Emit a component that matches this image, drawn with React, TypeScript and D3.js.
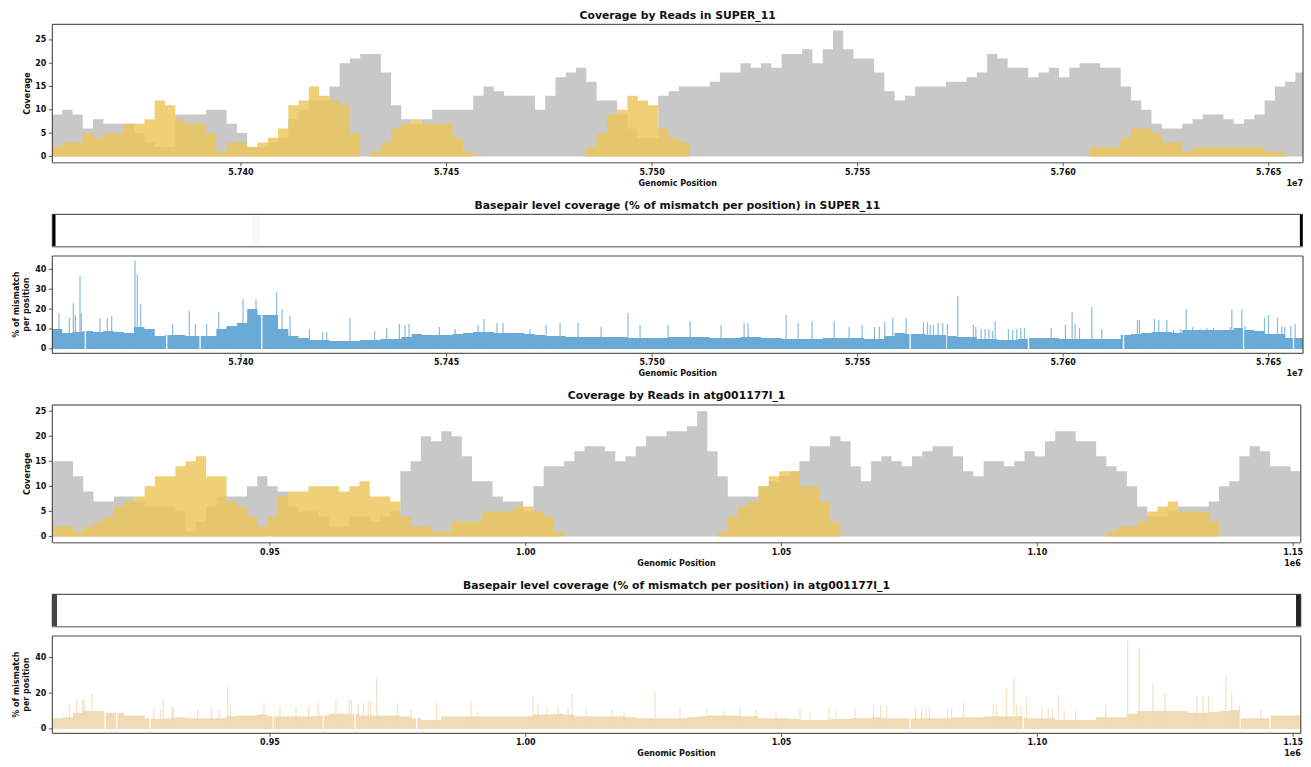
import React from 'react';
import * as d3 from 'd3';

// ---------------- DATA ----------------
// SUPER_11 coverage, bins of 2500 bp starting at 57,354,000
const superStart = 57354000;
const superBin = 2500;
const superGrey = [
  9, 10, 9, 6, 8, 7, 7, 7, 5, 3,
  2, 2, 9, 9, 9, 10, 10, 7, 5, 2,
  2, 3, 4, 8, 10, 12, 12, 15, 20, 21,
  22, 22, 18, 11, 8, 7, 8, 10,
  10, 10, 10, 13, 15, 14, 13, 13, 13, 10,
  13, 17, 18, 19, 16, 12, 12, 9, 6, 4,
  4, 13, 14, 15, 15, 15, 16, 18, 18, 20,
  19, 20, 19, 22, 22, 23, 20, 23, 27, 23,
  21, 21, 18, 14, 12, 13, 15, 15, 15, 16,
  16, 17, 18, 22, 21, 19, 19, 17, 18, 19,
  17, 19, 20, 20, 19, 19, 15, 12, 10, 7,
  6, 6, 7, 8, 9, 9, 8, 7, 8, 9,
  12, 15, 16, 18,
];
const superYellow = [
  2, 3, 3, 5, 4, 5, 5, 7, 7, 8,
  12, 11, 8, 7, 7, 5, 1, 3, 3, 2,
  3, 4, 6, 11, 12, 15, 13, 12, 11, 5,
  0, 1, 3, 6, 7, 8, 7, 7,
  7, 4, 1, 0, 0, 0, 0, 0, 0, 0,
  0, 0, 0, 0, 2, 5, 9, 10, 13, 12,
  11, 6, 4, 3, 0, 0, 0, 0, 0, 0,
  0, 0, 0, 0, 0, 0, 0, 0, 0, 0,
  0, 0, 0, 0, 0, 0, 0, 0, 0, 0,
  0, 0, 0, 0, 0, 0, 0, 0, 0, 0,
  0, 0, 0, 2, 2, 2, 4, 6, 6, 5,
  3, 3, 1, 2, 2, 2, 2, 2, 2, 2,
  1, 1,
];

// SUPER_11 mismatch %, baseline per 2500 bp bin
const superMis = [
  10, 8, 8.5, 9, 8.5, 9, 8.5, 8, 11, 10,
  6.5, 7, 7, 6.5, 6.5, 6.5, 10, 11.5, 13, 20,
  17, 17, 10, 6.5, 5.5, 4.5, 4.5, 4, 4, 4,
  4.5, 4.5, 5, 5, 6, 7.5, 7, 7,
  7, 7.5, 8, 8.5, 8.5, 8, 8, 8, 7.5, 7,
  6.5, 6.5, 6, 6, 6, 6, 6, 6, 5.5, 5.5,
  5.5, 5.5, 6, 6, 6, 6, 5.5, 5.5, 5.5, 6,
  6, 5.5, 5.5, 5, 5, 5, 5, 5.5, 5.5, 5.5,
  5.5, 5, 5, 6.5, 8, 7.5, 7.5, 7, 7, 6.5,
  6, 6, 5, 5, 4.5, 4.5, 5, 5.5, 5.5, 5.5,
  5, 5, 5, 5, 5, 5, 7, 7.5, 8, 8.5,
  8.5, 8, 9.5, 9.5, 9.5, 9.5, 9.5, 10.5, 9.5, 9,
  7.5, 7.5, 5.5, 5.5,
];
const superSpikePos = [
  57355720, 57358234, 57359207, 57359694, 57360829, 57361153, 57365695, 57367479, 57368534,
  57374211, 57374778, 57375589, 57383375, 57387430, 57388890, 57391647, 57394567, 57396513,
  57400487, 57403650, 57408678, 57409976, 57411922, 57416626, 57419870, 57420843, 57426520,
  57432521, 57435441, 57438523, 57439902, 57440875, 57448255,
  57452066, 57457662, 57459122, 57462285, 57463745, 57470314, 57474207, 57477613, 57481992,
  57487588, 57494157, 57497077, 57503889, 57509242, 57516784, 57522380, 57523353, 57532599,
  57535518, 57538924, 57544277, 57547926, 57551089,
  57554090, 57555307, 57556604, 57558551, 57561795, 57566012, 57566985, 57567634, 57568445,
  57569580, 57570716, 57571851, 57574365, 57578177, 57578745, 57580042, 57581016, 57581908,
  57582800, 57583449, 57586693, 57587747, 57588720, 57589693, 57590585, 57597073, 57600561,
  57602183, 57602913, 57603967, 57606968, 57609400, 57618078, 57618565, 57622214, 57623269,
  57625215, 57626837, 57628621, 57629919, 57631541, 57633325, 57634947, 57636569, 57640624,
  57641030, 57643463, 57644274, 57648977, 57649950, 57652140, 57653194, 57653924, 57655384,
  57656438,
];
const superSpikeVal = [
  18, 15.5, 23, 17, 36.5, 18, 15.5, 15.5, 16.5,
  44.5, 37.5, 22.5, 12.5, 19, 12.5, 12.5, 18.5, 11,
  25, 25, 28.5, 20, 16.5, 10, 8.5, 8.5, 15.5,
  9, 10.5, 12.5, 12, 12.5, 11,
  10, 12, 15, 13, 13, 10, 12, 13, 13,
  11, 18, 12, 12, 14, 12, 13, 13, 17,
  13, 14, 14, 11, 12,
  11, 11, 13.5, 15.5, 15.5, 13.5, 13.5, 12, 12,
  13, 13, 12.5, 26.5, 12, 11, 10, 10, 10,
  9, 14, 10, 9.5, 10, 10.5, 10.5, 10.5, 12,
  18.5, 12.5, 10.5, 21, 10, 14.5, 14.5, 15, 14.5,
  14.5, 9.5, 10, 20, 11, 10, 10.5, 10.5, 11,
  20, 20, 11.5, 15.5, 17, 15.5, 11.5, 11, 11.5,
  12.5,
];
const superGapPos = [
  57362127, 57381915, 57390025, 57405029, 57562768, 57571689, 57591558, 57614672, 57643868, 57656032,
];

// SUPER_11 strip cells: [start, end, darkness]
const superStripStart = [57354000, 57402700, 57657700];
const superStripEnd = [57354870, 57404650, 57658400];
const superStripVal = [1, 0.025, 1];

// atg001177l_1 coverage, bins of 2000 bp starting at 907,500
const atgStart = 907500;
const atgBin = 2000;
const atgGrey = [
  15, 15, 12, 9, 7, 7, 8, 8, 7, 6,
  6, 6, 5, 1, 3, 6, 8, 8, 8, 10,
  12, 10, 9, 6, 5, 5, 4, 2, 2, 4,
  4, 3, 4, 5, 13, 15, 20, 19,
  21, 20, 16, 11, 11, 8, 7, 7, 5, 10,
  14, 14, 15, 17, 18, 18, 17, 15, 16, 18,
  20, 20, 21, 21, 22, 25, 17, 12, 8, 8,
  8, 10, 11, 12, 13, 15, 18, 18, 20, 19,
  14, 11, 15, 16, 15, 14, 16, 17, 18, 18,
  16, 13, 12, 15, 15, 14, 15, 17, 16, 19,
  21, 21, 19, 19, 16, 14, 13, 10, 6, 4,
  4, 5, 6, 6, 6, 7, 10, 11, 16, 18,
  17, 14, 14, 13,
];
const atgYellow = [
  2, 2, 1, 2, 3, 4, 6, 7, 8, 10,
  12, 12, 14, 15, 16, 12, 12, 7, 6, 4,
  2, 4, 8, 9, 9, 10, 10, 10, 9, 10,
  11, 8, 8, 7, 4, 2, 2, 1,
  1, 3, 3, 3, 5, 5, 5, 6, 6, 5,
  4, 1, 0, 0, 0, 0, 0, 0, 0, 0,
  0, 0, 0, 0, 0, 0, 0, 1, 4, 6,
  7, 10, 12, 13, 13, 10, 10, 7, 3, 0,
  0, 0, 0, 0, 0, 0, 0, 0, 0, 0,
  0, 0, 0, 0, 0, 0, 0, 0, 0, 0,
  0, 0, 0, 0, 0, 1, 2, 2, 3, 5,
  6, 7, 5, 5, 5, 3, 0, 0, 0, 0,
  0, 0, 0, 0,
];
const atgMis = [
  6, 6.5, 9, 10, 10, 9, 9, 7.5, 7.5, 6,
  5.5, 6, 6.5, 6, 6, 6, 6, 7, 7.5, 7.5,
  8, 7, 7, 7, 7, 7, 7.5, 8.5, 8.5, 8.5,
  7.5, 7.5, 7.5, 7.5, 7, 6, 5, 5,
  7, 7, 7, 7, 7, 7, 7, 7, 7, 8,
  8, 8.5, 8, 7, 7, 7, 7, 7, 6.5, 6,
  6, 6, 6, 6, 6.5, 7, 7.5, 7.5, 7.5, 7,
  7, 6, 6, 6, 5.5, 5, 5, 5, 5.5, 5.5,
  6, 6, 6.5, 6, 6, 6, 6, 6, 6, 6,
  6.5, 6.5, 6.5, 7, 7, 7, 7, 6, 6, 6,
  5, 5, 5, 5, 6.5, 6.5, 6.5, 8.5, 10, 10,
  10, 10, 10, 9, 9, 9.5, 10, 10.5, 6, 6,
  6, 7.5, 7.5, 7.5,
];
const atgSpikePos = [
  910776, 912210, 913383, 913643, 915207, 927327, 928630, 929151, 930846, 931106,
  935863, 938600, 940099, 941728, 942249, 948830, 951957, 955085, 957561, 959386,
  962904, 965511, 965902, 967270, 968248, 969225, 969681, 970854, 974959, 977565, 982583,
  989289, 990658, 1001409, 1002386, 1004145, 1006295, 1008250, 1009032, 1011769, 1016851,
  1019196, 1025256, 1030143, 1035420, 1038743, 1041871, 1044998, 1048908, 1053599, 1055554,
  1059268, 1060636, 1064350,
  1067934, 1069367, 1070540, 1076209, 1077382, 1078229, 1078880, 1082464, 1083246, 1085592,
  1091391, 1092043, 1093998, 1095431, 1095952, 1096799, 1097907, 1100905, 1102143, 1102925,
  1104097, 1105270, 1107486, 1113350, 1117651, 1119931, 1122603, 1124949, 1131204, 1132377,
  1133485, 1136873, 1137981, 1139480, 1143716,
];
const atgSpikeVal = [
  13.5, 16.5, 16.5, 16.5, 20, 11.5, 11, 16.5, 12.5, 12.5,
  11, 12.5, 11, 23.5, 13.5, 14.5, 12.5, 12.5, 12.5, 14.5,
  16.5, 16.5, 16.5, 13.5, 14.5, 15.5, 15.5, 28.5, 14.5, 11, 15,
  16, 10, 18, 14, 12, 13, 12, 20, 12, 11,
  10, 21, 12, 11, 10, 12, 11, 10, 11, 9,
  12, 10, 12,
  13, 13, 13, 12, 12.5, 13, 12, 11.5, 11.5, 14.5,
  14, 14, 22, 28.5, 13.5, 12.5, 17.5, 12.5, 12, 11,
  19, 10, 10, 13.5, 49.5, 45, 25.5, 20, 18.5, 18.5,
  18.5, 30, 20.5, 13.5, 11,
];
const atgGapPos = [
  917748, 920029, 926545, 950654, 960428, 966618, 978673, 1075101, 1097256, 1139610, 1145475,
];
const atgStripStart = [907450, 1150570];
const atgStripEnd = [908370, 1151500];
const atgStripVal = [0.73, 0.87];

const superTicks = [57400000, 57450000, 57500000, 57550000, 57600000, 57650000];
const atgTicks = [950000, 1000000, 1050000, 1100000, 1150000];
const covYTicks = [0, 5, 10, 15, 20, 25];
const superMisYTicks = [0, 10, 20, 30, 40];
const atgMisYTicks = [0, 20, 40];

// ---------------- LAYOUT / STYLE ----------------
const FONT = "'DejaVu Sans', 'Liberation Sans', sans-serif";
const GREY = '#c8c8c8';
const YELLOW = 'rgb(236,198,88)';
const BLUE = '#6aaad6';
const BEIGE = '#f0dbb4';
const DARK = '#333';
const AX_FS = 8;
const TITLE_FS = 10.8;

type Box = { x0: number; x1: number; y0: number; y1: number };

function binPoints(start: number, bin: number, vals: number[]) {
  const pts = vals.map((v, i) => [start + i * bin, v] as [number, number]);
  pts.push([start + vals.length * bin, vals[vals.length - 1]]);
  return pts;
}

function Frame({ b, bottomGrey, topGrey }: { b: Box; bottomGrey?: boolean; topGrey?: boolean }) {
  return (
    <g>
      <line x1={b.x0} x2={b.x1} y1={b.y0} y2={b.y0} stroke={topGrey ? '#888' : DARK} strokeWidth={topGrey ? 1.6 : 1} />
      <line x1={b.x0} x2={b.x0} y1={b.y0} y2={b.y1} stroke={DARK} strokeWidth={1} />
      <line x1={b.x1} x2={b.x1} y1={b.y0} y2={b.y1} stroke={DARK} strokeWidth={1} />
      <line x1={b.x0} x2={b.x1} y1={b.y1} y2={b.y1} stroke={bottomGrey ? '#888' : DARK} strokeWidth={bottomGrey ? 1.6 : 1} />
    </g>
  );
}

function XAxis({ b, x, ticks, fmt, exp }: { b: Box; x: d3.ScaleLinear<number, number>; ticks: number[]; fmt: (v: number) => string; exp: string }) {
  return (
    <g fontFamily={FONT} fontWeight="bold" fontSize={AX_FS} fill="#111">
      {ticks.map((t) => (
        <g key={t}>
          <line x1={x(t)} x2={x(t)} y1={b.y1} y2={b.y1 + 3.5} stroke={DARK} strokeWidth={0.8} />
          <text x={x(t)} y={b.y1 + 9.6} textAnchor="middle" dominantBaseline="central">{fmt(t)}</text>
        </g>
      ))}
      <text x={(b.x0 + b.x1) / 2} y={b.y1 + 20.6} textAnchor="middle" dominantBaseline="central">Genomic Position</text>
      <text x={b.x1} y={b.y1 + 20.4} textAnchor="end" dominantBaseline="central">{exp}</text>
    </g>
  );
}

function YAxis({ b, y, ticks }: { b: Box; y: d3.ScaleLinear<number, number>; ticks: number[] }) {
  return (
    <g fontFamily={FONT} fontWeight="bold" fontSize={AX_FS} fill="#111">
      {ticks.map((t) => (
        <g key={t}>
          <line x1={b.x0 - 3.5} x2={b.x0} y1={y(t)} y2={y(t)} stroke={DARK} strokeWidth={0.8} />
          <text x={b.x0 - 6} y={y(t)} textAnchor="end" dominantBaseline="central">{t}</text>
        </g>
      ))}
    </g>
  );
}

function Title({ b, text, dy }: { b: Box; text: string; dy: number }) {
  return (
    <text x={(b.x0 + b.x1) / 2} y={b.y0 - dy} textAnchor="middle" dominantBaseline="central"
      fontFamily={FONT} fontWeight="bold" fontSize={TITLE_FS} fill="#111">{text}</text>
  );
}

function CoveragePanel(props: {
  id: string; b: Box; start: number; bin: number; grey: number[]; yellow: number[];
  domain: [number, number]; ticks: number[]; fmt: (v: number) => string; exp: string; title: string;
}) {
  const { id, b, start, bin, grey, yellow, domain, ticks, fmt, exp, title } = props;
  const x = d3.scaleLinear().domain(domain).range([b.x0, b.x1]);
  const m = d3.max([...grey, ...yellow]) as number;
  const y = d3.scaleLinear().domain([-0.05 * m, 1.05 * m]).range([b.y1, b.y0]);
  const area = d3.area<[number, number]>().x((d) => x(d[0])).y0(y(0)).y1((d) => y(d[1])).curve(d3.curveStepAfter);
  return (
    <g>
      <defs>
        <clipPath id={id}><rect x={b.x0} y={b.y0} width={b.x1 - b.x0} height={b.y1 - b.y0} /></clipPath>
      </defs>
      <Title b={b} text={title} dy={9.3} />
      <g clipPath={`url(#${id})`}>
        <path d={area(binPoints(start, bin, grey)) || ''} fill={GREY} />
        <path d={area(binPoints(start, bin, yellow)) || ''} fill={YELLOW} fillOpacity={0.82} />
      </g>
      <Frame b={b} bottomGrey />
      <YAxis b={b} y={y} ticks={covYTicks} />
      <text transform={`translate(${b.x0 - 25},${(b.y0 + b.y1) / 2}) rotate(-90)`} textAnchor="middle" dominantBaseline="central"
        fontFamily={FONT} fontWeight="bold" fontSize={AX_FS} fill="#111">Coverage</text>
      <XAxis b={b} x={x} ticks={ticks} fmt={fmt} exp={exp} />
    </g>
  );
}

function StripPanel(props: { b: Box; domain: [number, number]; s: number[]; e: number[]; v: number[]; title: string }) {
  const { b, domain, s, e, v, title } = props;
  const x = d3.scaleLinear().domain(domain).range([b.x0, b.x1]).clamp(true);
  const col = d3.scaleLinear<string>().domain([0, 1]).range(['#ffffff', '#000000']);
  return (
    <g>
      <Title b={b} text={title} dy={9.3} />
      <rect x={b.x0} y={b.y0} width={b.x1 - b.x0} height={b.y1 - b.y0} fill="#fff" />
      {s.map((st, i) => (
        <rect key={i} x={x(st)} y={b.y0} width={Math.max(0.5, x(e[i]) - x(st))} height={b.y1 - b.y0} fill={col(v[i])} />
      ))}
      <Frame b={b} bottomGrey />
    </g>
  );
}

function MismatchPanel(props: {
  id: string; b: Box; start: number; bin: number; base: number[]; spikePos: number[]; spikeVal: number[]; gaps: number[];
  domain: [number, number]; yTicks: number[]; ticks: number[]; fmt: (v: number) => string; exp: string; color: string;
}) {
  const { id, b, start, bin, base, spikePos, spikeVal, gaps, domain, yTicks, ticks, fmt, exp, color } = props;
  const x = d3.scaleLinear().domain(domain).range([b.x0, b.x1]);
  const m = d3.max([...base, ...spikeVal]) as number;
  const y = d3.scaleLinear().domain([-0.05 * m, 1.05 * m]).range([b.y1, b.y0]);
  const area = d3.area<[number, number]>().x((d) => x(d[0])).y0(y(0)).y1((d) => y(d[1])).curve(d3.curveStepAfter);
  const bm = d3.max(base) as number;
  return (
    <g>
      <defs>
        <clipPath id={id}><rect x={b.x0} y={b.y0} width={b.x1 - b.x0} height={b.y1 - b.y0} /></clipPath>
      </defs>
      <g clipPath={`url(#${id})`}>
        <path d={area(binPoints(start, bin, base)) || ''} fill={color} />
        {gaps.map((g, i) => (
          <rect key={'g' + i} x={x(g) - 0.6} y={y(bm)} width={1.3} height={y(0) - y(bm)} fill="#fff" />
        ))}
        {spikePos.map((p, i) => (
          <rect key={'s' + i} x={x(p) - 0.6} y={y(spikeVal[i])} width={1.2} height={y(0) - y(spikeVal[i])} fill={color} fillOpacity={0.8} />
        ))}
      </g>
      <Frame b={b} topGrey />
      <YAxis b={b} y={y} ticks={yTicks} />
      <text transform={`translate(${b.x0 - 35.5},${(b.y0 + b.y1) / 2}) rotate(-90)`} textAnchor="middle" dominantBaseline="central"
        fontFamily={FONT} fontWeight="bold" fontSize={AX_FS} fill="#111">% of mismatch</text>
      <text transform={`translate(${b.x0 - 25.5},${(b.y0 + b.y1) / 2}) rotate(-90)`} textAnchor="middle" dominantBaseline="central"
        fontFamily={FONT} fontWeight="bold" fontSize={AX_FS} fill="#111">per position</text>
      <XAxis b={b} x={x} ticks={ticks} fmt={fmt} exp={exp} />
    </g>
  );
}

export default function App() {
  const superFmt = (v: number) => (v / 1e7).toFixed(3);
  const atgFmt = (v: number) => (v / 1e6).toFixed(2);
  const superDomain: [number, number] = [57354090, 57658345];
  const atgDomain: [number, number] = [907450, 1151500];
  return (
    <svg width={1311} height={767} style={{ position: 'absolute', left: 0, top: 0, background: '#fff' }}>
      <rect x={0} y={0} width={1311} height={767} fill="#fff" />
      <CoveragePanel id="c1" b={{ x0: 52.3, x1: 1303, y0: 24.3, y1: 162.7 }} start={superStart} bin={superBin}
        grey={superGrey} yellow={superYellow} domain={superDomain} ticks={superTicks} fmt={superFmt} exp="1e7"
        title="Coverage by Reads in SUPER_11" />
      <StripPanel b={{ x0: 52.3, x1: 1302.5, y0: 214.3, y1: 246.7 }} domain={superDomain}
        s={superStripStart} e={superStripEnd} v={superStripVal}
        title="Basepair level coverage (% of mismatch per position) in SUPER_11" />
      <MismatchPanel id="m1" b={{ x0: 52.3, x1: 1303, y0: 256, y1: 353.3 }} start={superStart} bin={superBin}
        base={superMis} spikePos={superSpikePos} spikeVal={superSpikeVal} gaps={superGapPos}
        domain={superDomain} yTicks={superMisYTicks} ticks={superTicks} fmt={superFmt} exp="1e7" color={BLUE} />
      <CoveragePanel id="c2" b={{ x0: 52.3, x1: 1300.8, y0: 405, y1: 542.7 }} start={atgStart} bin={atgBin}
        grey={atgGrey} yellow={atgYellow} domain={atgDomain} ticks={atgTicks} fmt={atgFmt} exp="1e6"
        title="Coverage by Reads in atg001177l_1" />
      <StripPanel b={{ x0: 52.3, x1: 1300.8, y0: 594.3, y1: 626.7 }} domain={atgDomain}
        s={atgStripStart} e={atgStripEnd} v={atgStripVal}
        title="Basepair level coverage (% of mismatch per position) in atg001177l_1" />
      <MismatchPanel id="m2" b={{ x0: 52.3, x1: 1300.8, y0: 636, y1: 733.3 }} start={atgStart} bin={atgBin}
        base={atgMis} spikePos={atgSpikePos} spikeVal={atgSpikeVal} gaps={atgGapPos}
        domain={atgDomain} yTicks={atgMisYTicks} ticks={atgTicks} fmt={atgFmt} exp="1e6" color={BEIGE} />
    </svg>
  );
}
